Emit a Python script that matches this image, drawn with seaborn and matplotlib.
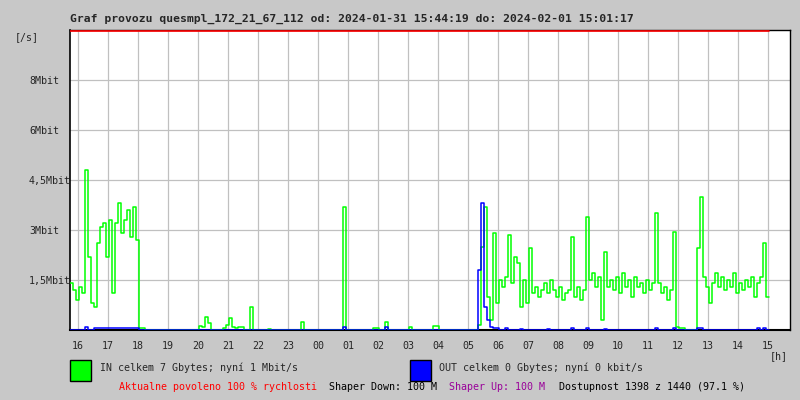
import numpy as np
import pandas as pd
import seaborn as sns
import matplotlib.pyplot as plt
from matplotlib.patches import Rectangle

# traffic samples, 6 minute step starting 2024-01-31 15:44:19 (values in Mbit/s)
start_hour = -16 / 60          # hours relative to 16:00
step_hour = 0.1

in_mbit = [
    1.4, 1.2, 0.9, 1.3, 1.1, 4.8, 2.2, 0.8, 0.7, 2.6,
    3.1, 3.2, 2.2, 3.3, 1.1, 3.2, 3.8, 2.9, 3.3, 3.6,
    2.8, 3.7, 2.7, 0.05, 0.05, 0, 0, 0, 0, 0,
    0, 0, 0, 0, 0, 0, 0, 0, 0, 0,
    0, 0, 0, 0.12, 0.1, 0.4, 0.2, 0, 0, 0,
    0, 0.05, 0.15, 0.35, 0.1, 0.05, 0.1, 0.1, 0, 0,
    0.7, 0, 0, 0, 0, 0, 0.03, 0, 0, 0,
    0, 0, 0, 0, 0, 0, 0, 0.25, 0, 0,
    0, 0, 0, 0, 0, 0, 0, 0, 0, 0,
    0, 3.7, 0, 0, 0, 0, 0, 0, 0, 0,
    0, 0.07, 0.07, 0, 0, 0.24, 0, 0, 0, 0,
    0, 0, 0, 0.1, 0, 0, 0, 0, 0, 0,
    0, 0.12, 0.12, 0, 0, 0, 0, 0, 0, 0,
    0, 0, 0, 0, 0, 0, 0.15, 2.5, 3.7, 1.0,
    0.3, 2.9, 0.8, 1.5, 1.3, 1.6, 2.85, 1.4, 2.2, 2.0,
    0.7, 1.5, 0.8, 2.45, 1.1, 1.3, 1.0, 1.2, 1.4, 1.1,
    1.5, 1.2, 1.0, 1.3, 0.9, 1.1, 1.2, 2.8, 1.0, 1.3,
    0.9, 1.2, 3.4, 1.5, 1.7, 1.3, 1.6, 0.3, 2.35, 1.3,
    1.5, 1.2, 1.6, 1.1, 1.7, 1.3, 1.5, 1.0, 1.6, 1.3,
    1.4, 1.1, 1.5, 1.2, 1.4, 3.5, 1.4, 1.1, 1.3, 0.9,
    1.2, 2.95, 0.1, 0.05, 0.05, 0, 0, 0, 0, 2.45,
    4.0, 1.6, 1.3, 0.8, 1.4, 1.7, 1.3, 1.6, 1.2, 1.5,
    1.3, 1.7, 1.1, 1.4, 1.2, 1.5, 1.3, 1.6, 1.0, 1.4,
    1.6, 2.6, 1.0, 1.0,
]

out_mbit = [
    0, 0, 0, 0, 0, 0.08, 0, 0, 0.05, 0.05,
    0.05, 0.05, 0.05, 0.05, 0.05, 0.05, 0.05, 0.05, 0.05, 0.05,
    0.05, 0.05, 0.05, 0, 0, 0, 0, 0, 0, 0,
    0, 0, 0, 0, 0, 0, 0, 0, 0, 0,
    0, 0, 0, 0, 0, 0, 0, 0, 0, 0,
    0, 0, 0, 0, 0, 0, 0, 0, 0, 0,
    0, 0, 0, 0, 0, 0, 0, 0, 0, 0,
    0, 0, 0, 0, 0, 0, 0, 0, 0, 0,
    0, 0, 0, 0, 0, 0, 0, 0, 0, 0,
    0, 0.1, 0, 0, 0, 0, 0, 0, 0, 0,
    0, 0, 0, 0, 0, 0.08, 0, 0, 0, 0,
    0, 0, 0, 0, 0, 0, 0, 0, 0, 0,
    0, 0, 0, 0, 0, 0, 0, 0, 0, 0,
    0, 0, 0, 0, 0, 0, 1.8, 3.8, 0.7, 0.3,
    0.1, 0.05, 0.05, 0, 0, 0.05, 0, 0, 0, 0,
    0.03, 0, 0, 0, 0, 0, 0, 0, 0, 0.03,
    0, 0, 0, 0, 0, 0, 0, 0.05, 0, 0,
    0, 0, 0.05, 0, 0, 0, 0, 0, 0.03, 0,
    0, 0, 0, 0, 0, 0, 0, 0, 0, 0,
    0, 0, 0, 0, 0, 0.05, 0, 0, 0, 0,
    0, 0.05, 0, 0, 0, 0, 0, 0, 0, 0.05,
    0.05, 0, 0, 0, 0, 0, 0, 0, 0, 0,
    0, 0, 0, 0, 0, 0, 0, 0, 0, 0.05,
    0, 0.05, 0, 0,
]

hour_labels = ['16', '17', '18', '19', '20', '21', '22', '23', '00', '01', '02', '03',
               '04', '05', '06', '07', '08', '09', '10', '11', '12', '13', '14', '15']
y_ticks = [1.5, 3, 4.5, 6, 7.5]
y_labels = ['1,5Mbit', '3Mbit', '4,5Mbit', '6Mbit', '8Mbit']

title = 'Graf provozu quesmpl_172_21_67_112 od: 2024-01-31 15:44:19 do: 2024-02-01 15:01:17'

W, H = 800, 400
bg = '#c8c8c8'

sns.set_theme(style='white')
plt.rcParams['font.family'] = ['DejaVu Sans Mono']

df = pd.DataFrame({
    'Hour': start_hour + step_hour * np.arange(len(in_mbit)),
    'IN': in_mbit,
    'OUT': out_mbit,
})

fig = plt.figure(figsize=(8, 4), dpi=100, facecolor=bg)
ax = fig.add_axes([70 / W, 1 - 330 / H, 720 / W, 300 / H])
ax.set_facecolor('white')

# grid
for h in range(24):
    ax.axvline(h, color='#c0c0c0', lw=0.9, zorder=0)
for v in y_ticks:
    ax.axhline(v, color='#c0c0c0', lw=0.9, zorder=0)

sns.lineplot(data=df, x='Hour', y='IN', ax=ax, color='#00ff00', lw=1.1,
             drawstyle='steps-post', estimator=None, zorder=3)
sns.lineplot(data=df, x='Hour', y='OUT', ax=ax, color='#0000ff', lw=1.1,
             drawstyle='steps-post', estimator=None, zorder=4)

# limit line at the top
ax.plot([df['Hour'].iloc[0], df['Hour'].iloc[-1]], [8.98, 8.98], color='#ff0000', lw=1.2, zorder=5)

ax.set_xlim(-8 / 30, 712 / 30)
ax.set_ylim(0, 9)
ax.set_xlabel('')
ax.set_ylabel('')

ax.set_xticks(range(24))
ax.set_xticklabels(hour_labels, fontsize=7.2)
ax.set_yticks(y_ticks)
ax.set_yticklabels(y_labels, fontsize=7.2)
ax.tick_params(axis='x', length=0, pad=8)
ax.tick_params(axis='y', length=0, pad=29.5)
for lab in ax.get_yticklabels():
    lab.set_horizontalalignment('left')

for s in ax.spines.values():
    s.set_color('black')
    s.set_linewidth(1)
ax.spines['bottom'].set_linewidth(1.5)
ax.spines['left'].set_linewidth(1.2)


def px(x, y):
    return x / W, 1 - y / H


fig.text(*px(70, 19), title, fontsize=8.2, fontweight='bold', va='center', ha='left')
fig.text(*px(15, 37), '[/s]', fontsize=7.2, va='center', ha='left')
fig.text(*px(770, 356), '[h]', fontsize=7.2, va='center', ha='left')

# legend boxes
fig.patches.append(Rectangle(px(70, 381), 21 / W, 21 / H, transform=fig.transFigure,
                             facecolor='#00ff00', edgecolor='black', lw=1))
fig.patches.append(Rectangle(px(410, 381), 21 / W, 21 / H, transform=fig.transFigure,
                             facecolor='#0000ff', edgecolor='black', lw=1))
fig.text(*px(100, 368), 'IN celkem 7 Gbytes; nyní 1 Mbit/s', fontsize=7.2, va='center')
fig.text(*px(439, 368), 'OUT celkem 0 Gbytes; nyní 0 kbit/s', fontsize=7.2, va='center')

fig.text(*px(119, 387), 'Aktualne povoleno 100 % rychlosti', fontsize=7.2, va='center', color='#ff0000')
fig.text(*px(329, 387), 'Shaper Down: 100 M', fontsize=7.2, va='center', color='black')
fig.text(*px(449, 387), 'Shaper Up: 100 M', fontsize=7.2, va='center', color='#990099')
fig.text(*px(559, 387), 'Dostupnost 1398 z 1440 (97.1 %)', fontsize=7.2, va='center', color='black')

fig.savefig('out.png', dpi=100, facecolor=bg)
